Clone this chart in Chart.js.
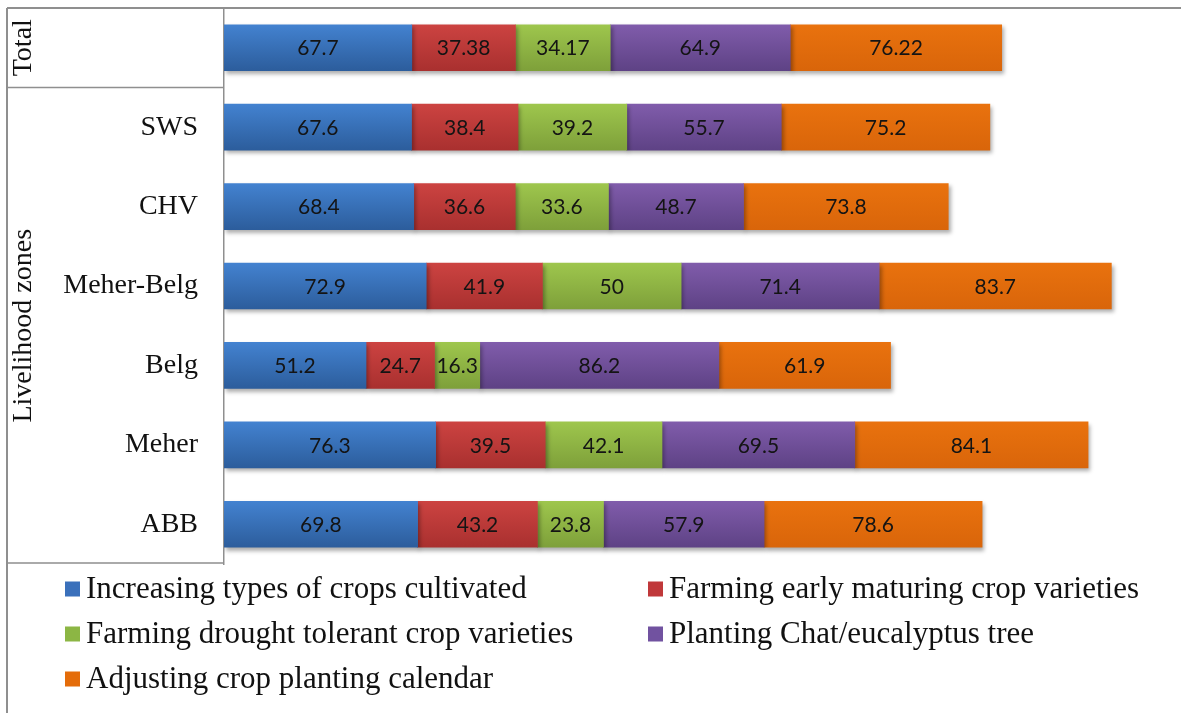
<!DOCTYPE html>
<html>
<head>
<meta charset="utf-8">
<title>Adaptation strategies by livelihood zone</title>
<script src="https://cdn.jsdelivr.net/npm/chart.js@4.4.1/dist/chart.umd.min.js"></script>
<style>
  html, body { margin: 0; padding: 0; background: #ffffff; }
  #wrap { width: 1181px; height: 713px; position: relative; }
</style>
</head>
<body>
<div id="wrap"><canvas id="chart" width="1181" height="713"></canvas></div>
<script>
// Rows, top to bottom
const categories = ['Total', 'SWS', 'CHV', 'Meher-Belg', 'Belg', 'Meher', 'ABB'];

// Share of households (%) using each strategy
const increasingCrops   = [67.7, 67.6, 68.4, 72.9, 51.2, 76.3, 69.8];
const earlyMaturing     = [37.38, 38.4, 36.6, 41.9, 24.7, 39.5, 43.2];
const droughtTolerant   = [34.17, 39.2, 33.6, 50, 16.3, 42.1, 23.8];
const chatEucalyptus    = [64.9, 55.7, 48.7, 71.4, 86.2, 69.5, 57.9];
const adjustingCalendar = [76.22, 75.2, 73.8, 83.7, 61.9, 84.1, 78.6];

const seriesNames = [
  'Increasing types of crops cultivated',
  'Farming early maturing crop varieties',
  'Farming drought tolerant crop varieties',
  'Planting Chat/eucalyptus tree',
  'Adjusting crop planting calendar'
];

// Row group captions on the left; the first group is a single row
const groupNames = ['Total', 'Livelihood zones'];

const palette = [
  { flat: '#3a70bb', top: '#4382d0', bottom: '#2c5d9c' },
  { flat: '#c0383a', top: '#cc4341', bottom: '#a9302f' },
  { flat: '#8cb644', top: '#9ec64d', bottom: '#7ea03a' },
  { flat: '#7152a0', top: '#805cab', bottom: '#5e4285' },
  { flat: '#e46c0a', top: '#e9720e', bottom: '#d9650a' }
];

const BAR = 46;
const SERIF = '"Liberation Serif", "Times New Roman", serif';
const LABEL_FONT = 'Lato, "Open Sans", sans-serif';

function barFill(i) {
  return (ctx) => {
    const chart = ctx.chart;
    const ys = chart.scales && chart.scales.y;
    if (!ys || ctx.type !== 'data' || !chart.chartArea) return palette[i].flat;
    const cy = ys.getPixelForValue(ctx.dataIndex);
    const g = chart.ctx.createLinearGradient(0, cy - BAR / 2, 0, cy + BAR / 2);
    g.addColorStop(0, palette[i].top);
    g.addColorStop(1, palette[i].bottom);
    return g;
  };
}

const seriesValues = [increasingCrops, earlyMaturing, droughtTolerant, chatEucalyptus, adjustingCalendar];

const datasets = seriesValues.map((vals, i) => ({
  label: seriesNames[i],
  data: vals,
  backgroundColor: barFill(i),
  borderWidth: 0,
  barThickness: BAR
}));

// Soft drop shadow under the bar segments
const barShadow = {
  id: 'barShadow',
  beforeDatasetsDraw(chart) {
    const c = chart.ctx;
    c.save();
    c.shadowColor = 'rgba(0,0,0,0.32)';
    c.shadowBlur = 4;
    c.shadowOffsetX = 2;
    c.shadowOffsetY = 3;
  },
  afterDatasetsDraw(chart) {
    chart.ctx.restore();
  }
};

// Value printed in the middle of every segment
const segmentLabels = {
  id: 'segmentLabels',
  afterDatasetsDraw(chart) {
    const c = chart.ctx;
    c.save();
    c.font = '21px ' + LABEL_FONT;
    c.fillStyle = '#141414';
    c.textAlign = 'center';
    c.textBaseline = 'middle';
    chart.data.datasets.forEach((ds, di) => {
      const meta = chart.getDatasetMeta(di);
      meta.data.forEach((el, idx) => {
        const v = ds.data[idx];
        const x = (el.base + el.x) / 2;
        c.fillText(String(v), x, el.y + 1);
      });
    });
    c.restore();
  }
};

// Frame lines, row-group captions and the two-column legend
const frameAndLegend = {
  id: 'frameAndLegend',
  afterDraw(chart) {
    const c = chart.ctx;
    const area = chart.chartArea;
    const ys = chart.scales.y;
    const left = 7;
    const split = (ys.getPixelForValue(0) + ys.getPixelForValue(1)) / 2;
    c.save();
    c.strokeStyle = '#8f8f8f';
    c.lineWidth = 2;
    c.beginPath();
    c.moveTo(left, area.top); c.lineTo(chart.width, area.top);
    c.moveTo(left, area.top); c.lineTo(left, chart.height);
    c.stroke();
    c.lineWidth = 1.5;
    c.beginPath();
    c.moveTo(left, split); c.lineTo(area.left, split);
    c.moveTo(left, area.bottom - 1); c.lineTo(area.left, area.bottom - 1);
    c.stroke();

    // rotated group captions
    c.fillStyle = '#111';
    c.font = '28px ' + SERIF;
    c.textAlign = 'center';
    c.textBaseline = 'middle';
    const groups = [[area.top, split], [split, area.bottom]];
    groups.forEach((g, i) => {
      c.save();
      c.translate(24, (g[0] + g[1]) / 2);
      c.rotate(-Math.PI / 2);
      c.fillText(groupNames[i], 0, 0);
      c.restore();
    });

    // legend
    const colX = [65, 648];
    const rowY = [589, 634, 679];
    c.font = '31px ' + SERIF;
    c.textAlign = 'left';
    c.textBaseline = 'middle';
    seriesNames.forEach((name, i) => {
      const x = colX[i % 2];
      const y = rowY[Math.floor(i / 2)];
      c.fillStyle = palette[i].flat;
      c.fillRect(x, y - 7.5, 15, 15);
      c.fillStyle = '#111';
      c.fillText(name, x + 21, y + 1);
    });
    c.restore();
  }
};

function build() {
  new Chart(document.getElementById('chart'), {
    type: 'bar',
    data: { labels: categories, datasets },
    plugins: [barShadow, segmentLabels, frameAndLegend],
    options: {
      indexAxis: 'y',
      responsive: false,
      animation: false,
      layout: { padding: { top: 8, bottom: 149, left: 0, right: 0 } },
      plugins: {
        legend: { display: false },
        tooltip: { enabled: false },
        title: { display: false }
      },
      scales: {
        x: {
          stacked: true,
          min: 0,
          max: 345,
          display: false
        },
        y: {
          stacked: true,
          grid: { display: false, drawTicks: false },
          border: { display: true, color: '#8f8f8f', width: 1.5 },
          ticks: {
            color: '#111',
            font: { family: SERIF, size: 28 },
            padding: 26,
            // the overall row is named by its rotated group caption instead
            callback(value, index) {
              return index === 0 ? '' : this.getLabelForValue(value);
            }
          },
          afterFit(scale) {
            scale.width = 224;
            scale.paddingTop = 0;
            scale.paddingBottom = 0;
          }
        }
      }
    }
  });
}

Promise.all([
  document.fonts.load('28px "Liberation Serif"'),
  document.fonts.load('21px Lato')
]).then(build, build);
</script>
</body>
</html>
